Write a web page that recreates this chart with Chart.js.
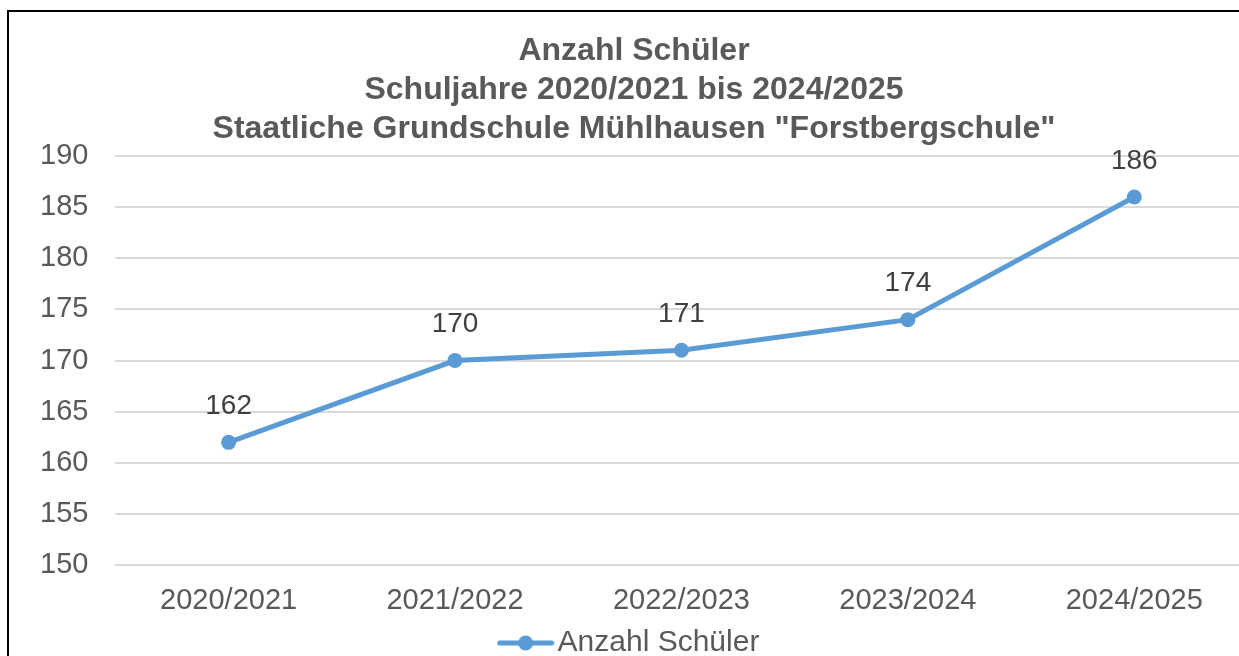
<!DOCTYPE html>
<html>
<head>
<meta charset="utf-8">
<script src="https://cdn.jsdelivr.net/npm/chart.js@4/dist/chart.umd.min.js"></script>
<style>
  html, body { margin: 0; padding: 0; background: #fff; overflow: hidden; width: 1239px; height: 656px; }
  #frame { position: absolute; left: 7px; top: 10px; width: 1300px; height: 700px; border: 2px solid #000; box-sizing: border-box; }
  #chart { position: absolute; left: 8px; top: 12px; }
</style>
</head>
<body>
<div id="frame"></div>
<canvas id="chart" width="1247" height="660"></canvas>
<script>
const titleLines = ["Anzahl Schüler", "Schuljahre 2020/2021 bis 2024/2025", "Staatliche Grundschule Mühlhausen \"Forstbergschule\""];
const schoolYears = ["2020/2021", "2021/2022", "2022/2023", "2023/2024", "2024/2025"];
const studentCounts = [162, 170, 171, 174, 186];
const seriesName = "Anzahl Schüler";

const FONT = "'Liberation Sans', Arial, sans-serif";
const BLUE = "#5B9BD5";

// legend symbol: line with a dot in the middle
const legendIcon = document.createElement("canvas");
legendIcon.width = 58;
legendIcon.height = 16;
(() => {
  const c = legendIcon.getContext("2d");
  c.strokeStyle = BLUE;
  c.lineWidth = 5;
  c.lineCap = "round";
  c.beginPath();
  c.moveTo(3, 8);
  c.lineTo(55, 8);
  c.stroke();
  c.fillStyle = BLUE;
  c.beginPath();
  c.arc(29, 8, 7.5, 0, Math.PI * 2);
  c.fill();
})();

// value labels above each point
const valueLabels = {
  id: "valueLabels",
  afterDatasetsDraw(chart) {
    const ctx = chart.ctx;
    const meta = chart.getDatasetMeta(0);
    ctx.save();
    ctx.font = "28px " + FONT;
    ctx.fillStyle = "#404040";
    ctx.textAlign = "center";
    ctx.textBaseline = "middle";
    meta.data.forEach((pt, i) => {
      ctx.fillText(String(studentCounts[i]), pt.x, pt.y - 36);
    });
    ctx.restore();
  }
};

new Chart(document.getElementById("chart").getContext("2d"), {
  type: "line",
  data: {
    labels: schoolYears,
    datasets: [{
      label: seriesName,
      data: studentCounts,
      borderColor: BLUE,
      backgroundColor: BLUE,
      borderWidth: 5,
      pointRadius: 7.5,
      pointBackgroundColor: BLUE,
      pointBorderWidth: 0,
      pointStyle: "circle",
      tension: 0,
      fill: false
    }]
  },
  options: {
    responsive: false,
    animation: false,
    layout: { padding: { left: 5, right: 0, top: 0, bottom: 4 } },
    plugins: {
      title: {
        display: true,
        text: titleLines,
        color: "#595959",
        font: { family: FONT, size: 32, weight: "bold", lineHeight: 1.23 },
        padding: { top: 19, bottom: 7 }
      },
      legend: {
        display: true,
        position: "bottom",
        labels: {
          usePointStyle: true,
          pointStyle: legendIcon,
          pointStyleWidth: 34,
          color: "#595959",
          font: { family: FONT, size: 30 },
          padding: 0
        }
      },
      tooltip: { enabled: false }
    },
    scales: {
      x: {
        offset: true,
        grid: { display: false },
        border: { display: false },
        ticks: { color: "#595959", font: { family: FONT, size: 29, lineHeight: 1 }, padding: 13 }
      },
      y: {
        min: 150,
        max: 190,
        ticks: { stepSize: 5, color: "#595959", font: { family: FONT, size: 29 }, padding: 27 },
        grid: { color: "#D9D9D9", lineWidth: 2, drawTicks: false },
        border: { display: false }
      }
    }
  },
  plugins: [valueLabels]
});
</script>
</body>
</html>
